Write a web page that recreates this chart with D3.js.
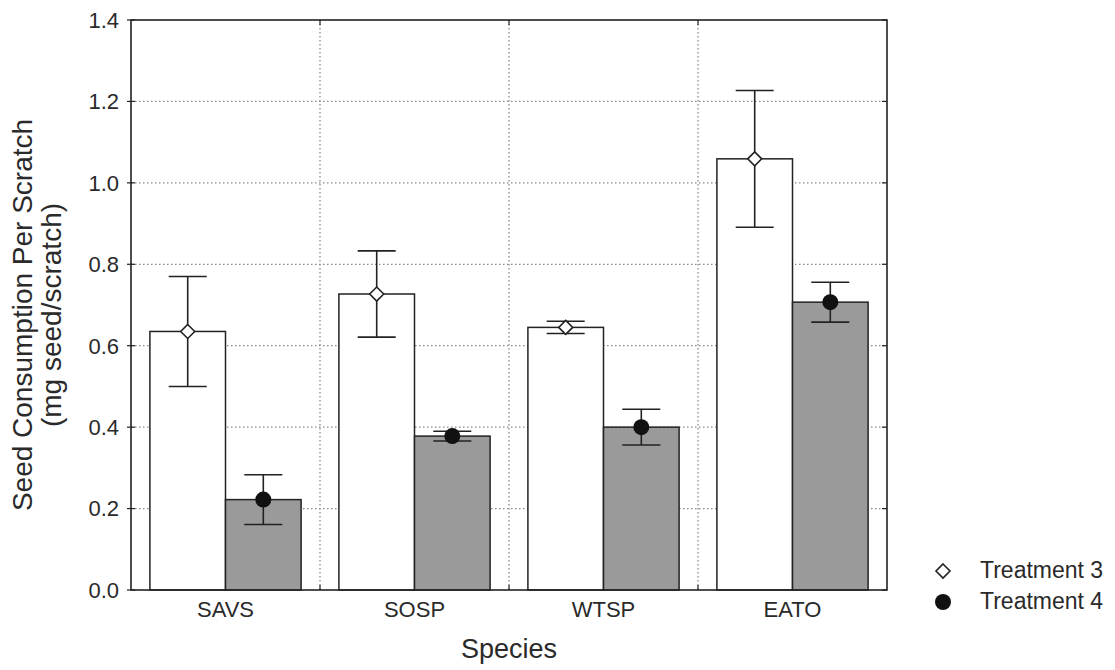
<!DOCTYPE html>
<html>
<head>
<meta charset="utf-8">
<script src="https://cdn.jsdelivr.net/npm/d3@7"></script>
<style>
html,body{margin:0;padding:0;background:#fff;}
svg{display:block;font-family:"Liberation Sans",Arial,sans-serif;}
</style>
</head>
<body>
<svg id="chart" width="1115" height="670"></svg>
<script>
const categories = ["SAVS", "SOSP", "WTSP", "EATO"];
const series = ["Treatment 3", "Treatment 4"];
const treatment3 = [0.635, 0.727, 0.645, 1.059];
const treatment3Err = [0.135, 0.106, 0.015, 0.168];
const treatment4 = [0.222, 0.378, 0.400, 0.707];
const treatment4Err = [0.061, 0.012, 0.044, 0.049];
const yTicks = [0.0, 0.2, 0.4, 0.6, 0.8, 1.0, 1.2, 1.4];

const values = [treatment3, treatment4];
const errs = [treatment3Err, treatment4Err];
const rows = [];
categories.forEach((c, i) => series.forEach((s, j) => rows.push({cat: c, s, v: values[j][i], e: errs[j][i], j})));

const svg = d3.select("#chart");
const L = 131, R = 887, T = 20, B = 590;
const ink = "#222";
const textCol = "#2a2a2a";

const x = d3.scaleBand().domain(categories).range([L, R]).paddingInner(0).paddingOuter(0);
const xi = d3.scaleBand().domain(series).range([x.bandwidth() * 0.1, x.bandwidth() * 0.9]);
const y = d3.scaleLinear().domain([0, 1.4]).range([B, T]);

// grid
const grid = svg.append("g").attr("stroke", "#8a8a8a").attr("stroke-width", 1.3).attr("stroke-dasharray", "1.5,2.5");
grid.selectAll("line.h").data(yTicks.slice(1, -1)).join("line")
  .attr("x1", L).attr("x2", R).attr("y1", d => y(d)).attr("y2", d => y(d));
grid.selectAll("line.v").data(categories.slice(1)).join("line")
  .attr("y1", T).attr("y2", B).attr("x1", d => x(d)).attr("x2", d => x(d));

// bars
svg.append("g").selectAll("rect").data(rows).join("rect")
  .attr("x", d => x(d.cat) + xi(d.s))
  .attr("width", xi.bandwidth())
  .attr("y", d => y(d.v))
  .attr("height", d => y(0) - y(d.v))
  .attr("fill", d => d.j === 0 ? "#fff" : "#9a9a9a")
  .attr("stroke", ink).attr("stroke-width", 1.5);

// error bars
const cap = 19;
const eb = svg.append("g").attr("stroke", ink).attr("stroke-width", 1.6);
rows.forEach(d => {
  const cx = x(d.cat) + xi(d.s) + xi.bandwidth() / 2;
  eb.append("line").attr("x1", cx).attr("x2", cx).attr("y1", y(d.v + d.e)).attr("y2", y(d.v - d.e));
  eb.append("line").attr("x1", cx - cap).attr("x2", cx + cap).attr("y1", y(d.v + d.e)).attr("y2", y(d.v + d.e));
  eb.append("line").attr("x1", cx - cap).attr("x2", cx + cap).attr("y1", y(d.v - d.e)).attr("y2", y(d.v - d.e));
});

// markers
const diamond = (cx, cy, r) => `M${cx},${cy - r}L${cx + r},${cy}L${cx},${cy + r}L${cx - r},${cy}Z`;
const mk = svg.append("g");
rows.forEach(d => {
  const cx = x(d.cat) + xi(d.s) + xi.bandwidth() / 2;
  if (d.j === 0) {
    mk.append("path").attr("d", diamond(cx, y(d.v), 7)).attr("fill", "#fff").attr("stroke", ink).attr("stroke-width", 1.6);
  } else {
    mk.append("circle").attr("cx", cx).attr("cy", y(d.v)).attr("r", 8).attr("fill", "#111");
  }
});

// frame + ticks
svg.append("rect").attr("x", L).attr("y", T).attr("width", R - L).attr("height", B - T)
  .attr("fill", "none").attr("stroke", ink).attr("stroke-width", 1.6);
const tk = svg.append("g").attr("stroke", ink).attr("stroke-width", 1.2);
yTicks.forEach(v => {
  tk.append("line").attr("x1", L - 4).attr("x2", L + 4).attr("y1", y(v)).attr("y2", y(v));
  tk.append("line").attr("x1", R - 5).attr("x2", R).attr("y1", y(v)).attr("y2", y(v));
});
categories.slice(1).forEach(c => {
  tk.append("line").attr("x1", x(c)).attr("x2", x(c)).attr("y1", T).attr("y2", T + 5);
  tk.append("line").attr("x1", x(c)).attr("x2", x(c)).attr("y1", B - 5).attr("y2", B);
});

// y tick labels
svg.append("g").selectAll("text").data(yTicks).join("text")
  .attr("x", 119).attr("y", d => y(d)).attr("dy", "0.36em")
  .attr("text-anchor", "end").attr("font-size", 22).attr("fill", textCol)
  .text(d => d3.format(".1f")(d));

// x tick labels
svg.append("g").selectAll("text").data(categories).join("text")
  .attr("x", d => x(d) + x.bandwidth() / 2).attr("y", 617)
  .attr("text-anchor", "middle").attr("font-size", 22).attr("fill", textCol)
  .text(d => d);

// axis titles
svg.append("text").attr("x", (L + R) / 2).attr("y", 658).attr("text-anchor", "middle")
  .attr("font-size", 27).attr("fill", textCol).text("Species");
const yt = svg.append("text").attr("transform", "translate(0,315) rotate(-90)")
  .attr("text-anchor", "middle").attr("font-size", 28).attr("fill", textCol);
yt.append("tspan").attr("x", 0).attr("y", 32).text("Seed Consumption Per Scratch");
yt.append("tspan").attr("x", 0).attr("y", 61).text("(mg seed/scratch)");

// legend
const lg = svg.append("g");
lg.append("path").attr("d", diamond(943, 571, 7)).attr("fill", "#fff").attr("stroke", ink).attr("stroke-width", 1.6);
lg.append("circle").attr("cx", 943).attr("cy", 602).attr("r", 8).attr("fill", "#111");
lg.append("text").attr("x", 980).attr("y", 578).attr("font-size", 23).attr("fill", textCol).text(series[0]);
lg.append("text").attr("x", 980).attr("y", 609).attr("font-size", 23).attr("fill", textCol).text(series[1]);
</script>
</body>
</html>
